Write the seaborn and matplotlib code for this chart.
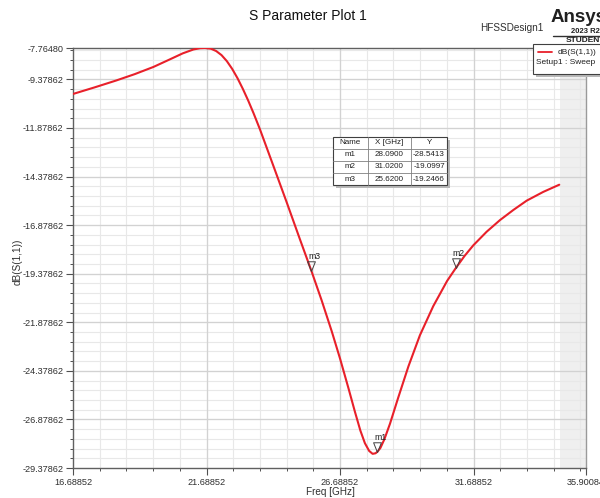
import numpy as np
import pandas as pd
import matplotlib
matplotlib.use("Agg")
import matplotlib.pyplot as plt
import seaborn as sns
from matplotlib.patches import Rectangle
from matplotlib.lines import Line2D
from matplotlib.path import Path
from matplotlib.ticker import FixedLocator, FixedFormatter

# ---------------- data ----------------
freq_ghz = [16.69, 17.50, 18.30, 19.00, 19.70, 20.30, 20.80, 21.20, 21.45, 21.63,
            21.85, 22.05, 22.25, 22.45, 22.65, 22.85, 23.05, 23.25, 23.45, 23.69,
            24.19, 24.69, 25.19, 25.62, 26.00, 26.38, 26.69, 27.00, 27.25, 27.45,
            27.62, 27.78, 27.91, 28.02, 28.09, 28.20, 28.35, 28.56, 28.87, 29.25,
            29.68, 30.18, 30.70, 31.02, 31.35, 31.68, 32.18, 32.68, 33.18, 33.68,
            34.30, 34.90]
s11_db = [-10.13, -9.79, -9.44, -9.11, -8.74, -8.36, -8.04, -7.84, -7.775, -7.765,
          -7.80, -7.92, -8.13, -8.44, -8.84, -9.32, -9.87, -10.47, -11.12, -11.95,
          -13.82, -15.70, -17.62, -19.2466, -20.75, -22.35, -23.75, -25.25, -26.50, -27.45,
          -28.10, -28.50, -28.65, -28.62, -28.5413, -28.35, -27.90, -27.10, -25.75, -24.15,
          -22.55, -21.05, -19.75, -19.0997, -18.47, -17.92, -17.22, -16.62, -16.10, -15.62,
          -15.17, -14.80]

marker_names = ["m1", "m2", "m3"]
marker_x = [28.0900, 31.0200, 25.6200]
marker_y = [-28.5413, -19.0997, -19.2466]

x_major_ticks = [16.68852, 21.68852, 26.68852, 31.68852, 35.90084]
y_major_ticks = [-7.76480, -9.37862, -11.87862, -14.37862, -16.87862,
                 -19.37862, -21.87862, -24.37862, -26.87862, -29.37862]
x_min, x_max = 16.68852, 35.90084
y_min, y_max = -29.37862, -7.76480

df = pd.DataFrame({"Freq [GHz]": freq_ghz, "dB(S(1,1))": s11_db})

# ---------------- style ----------------
sns.set_theme(style="white")
plt.rcParams['font.family'] = ['Liberation Sans', 'DejaVu Sans']

W, H = 600, 498
fig = plt.figure(figsize=(W / 100, H / 100), dpi=100)
fig.patch.set_facecolor("white")

def fx(px):
    return px / W

def fy(py):
    return 1 - py / H

ax = fig.add_axes([fx(73), fy(468), (586 - 73) / W, (468 - 48) / H])
ax.set_xlim(x_min, x_max)
ax.set_ylim(y_min, y_max)

# shaded region beyond sweep
ax.axvspan(34.93, x_max, color="#efefef", zorder=0, lw=0)

# grid
x_minor = [x_min + k for k in range(1, 20) if (x_min + k) < x_max]
y_minor = [y_min + 0.5 * k for k in range(1, 44) if (y_min + 0.5 * k) < y_max]
for v in x_minor:
    ax.axvline(v, color="#e8e8e8", lw=0.8, zorder=0.5)
for v in x_major_ticks[1:-1]:
    ax.axvline(v, color="#d2d2d2", lw=0.9, zorder=0.6)
for v in y_minor:
    ax.axhline(v, color="#e8e8e8", lw=0.8, zorder=0.5)
for v in y_major_ticks[1:-1]:
    ax.axhline(v, color="#d2d2d2", lw=0.9, zorder=0.6)

sns.lineplot(data=df, x="Freq [GHz]", y="dB(S(1,1))", ax=ax, color="#e8202a",
             lw=1.5, sort=False, zorder=3, legend=False)

# ticks
ax.xaxis.set_major_locator(FixedLocator(x_major_ticks))
ax.xaxis.set_major_formatter(FixedFormatter([f"{v:.5f}" for v in x_major_ticks]))
ax.xaxis.set_minor_locator(FixedLocator(x_minor))
ax.yaxis.set_major_locator(FixedLocator(y_major_ticks))
ax.yaxis.set_major_formatter(FixedFormatter([f"{v:.5f}" for v in y_major_ticks]))
ax.yaxis.set_minor_locator(FixedLocator(y_minor))
ax.tick_params(axis="both", which="major", direction="out", length=5, width=0.8,
               color="#505050", labelsize=6.6, pad=2, labelcolor="#303030")
ax.tick_params(axis="both", which="minor", direction="out", length=2.5, width=0.7,
               color="#505050")
ax.tick_params(axis="x", which="both", bottom=True)
ax.tick_params(axis="y", which="both", left=True)

for s in ["left", "bottom", "top"]:
    ax.spines[s].set_color("#606060")
    ax.spines[s].set_linewidth(1.0)
ax.spines["right"].set_color("#9a9a9a")
ax.spines["right"].set_linewidth(1.0)

ax.set_xlabel("")
ax.set_ylabel("")
fig.text(fx(330), fy(492), "Freq [GHz]", ha="center", va="center", fontsize=7.2, color="#303030")
fig.text(fx(18), fy(262), "dB(S(1,1))", ha="center", va="center", rotation=90,
         fontsize=7.2, color="#303030")

# markers
tri = Path([(-0.4, 1.0), (0.4, 1.0), (0.0, 0.0), (-0.4, 1.0)],
           [Path.MOVETO, Path.LINETO, Path.LINETO, Path.CLOSEPOLY])
for name, mx, my in zip(marker_names, marker_x, marker_y):
    ax.plot([mx], [my], marker=tri, ms=14, mfc="none", mec="#404040", mew=0.7,
            ls="none", zorder=4)
    ax.annotate(name, (mx, my), xytext=(-2.5, 7.3), textcoords="offset points",
                fontsize=6.3, ha="left", va="bottom", color="#202020", zorder=5)

# title texts
fig.text(fx(308), fy(16), "S Parameter Plot 1", ha="center", va="center", fontsize=10, color="#101010")
fig.text(fx(480), fy(28), "HFSSDesign1", ha="left", va="center", fontsize=7.2, color="#303030")
fig.text(fx(551), fy(18), "Ansys", ha="left", va="center", fontsize=13.5, fontweight="bold", color="#202020")
fig.text(fx(571), fy(31.5), "2023 R2", ha="left", va="center", fontsize=5.5, fontweight="bold", color="#202020")
fig.add_artist(Line2D([fx(553), fx(600)], [fy(36), fy(36)], color="#303030", lw=1.0))
fig.text(fx(566), fy(40.5), "STUDENT", ha="left", va="center", fontsize=6, fontweight="bold", color="#202020")

# legend box
fig.add_artist(Rectangle((fx(536), fy(77)), 80 / W, 30 / H, transform=fig.transFigure,
                         facecolor="#b8b8b8", edgecolor="none", zorder=5))
fig.add_artist(Rectangle((fx(533), fy(74)), 80 / W, 30 / H, transform=fig.transFigure,
                         facecolor="white", edgecolor="#404040", lw=0.8, zorder=6))
fig.add_artist(Line2D([fx(538), fx(552)], [fy(52), fy(52)], color="#e8202a", lw=1.3, zorder=7))
fig.text(fx(558), fy(52), "dB(S(1,1))", ha="left", va="center", fontsize=6, color="#202020", zorder=7)
fig.text(fx(536), fy(62), "Setup1 : Sweep", ha="left", va="center", fontsize=6, color="#202020", zorder=7)

# marker table
tl, tr, tt = 333, 447, 137
rh = 12
cols = [333, 368, 411, 447]
nrows = 4
fig.add_artist(Rectangle((fx(tl + 3), fy(tt + rh * nrows + 3)), (tr - tl) / W, rh * nrows / H,
                         transform=fig.transFigure, facecolor="#b8b8b8", edgecolor="none", zorder=5))
fig.add_artist(Rectangle((fx(tl), fy(tt + rh * nrows)), (tr - tl) / W, rh * nrows / H,
                         transform=fig.transFigure, facecolor="white", edgecolor="#404040",
                         lw=0.8, zorder=6))
for r in range(1, nrows):
    yy = tt + rh * r
    fig.add_artist(Line2D([fx(tl), fx(tr)], [fy(yy), fy(yy)], color="#808080", lw=0.6, zorder=7))
for c in cols[1:-1]:
    fig.add_artist(Line2D([fx(c), fx(c)], [fy(tt), fy(tt + rh * nrows)], color="#808080", lw=0.6, zorder=7))
header = ["Name", "X [GHz]", "Y"]
rows = [header] + [[n, f"{x:.4f}", f"{y:.4f}"] for n, x, y in zip(marker_names, marker_x, marker_y)]
for ri, row in enumerate(rows):
    for ci, txt in enumerate(row):
        cx = (cols[ci] + cols[ci + 1]) / 2
        cy = tt + rh * ri + rh / 2
        fig.text(fx(cx), fy(cy), txt, ha="center", va="center", fontsize=5.8,
                 color="#202020", zorder=8)

fig.savefig("out.png", dpi=100, facecolor="white")
